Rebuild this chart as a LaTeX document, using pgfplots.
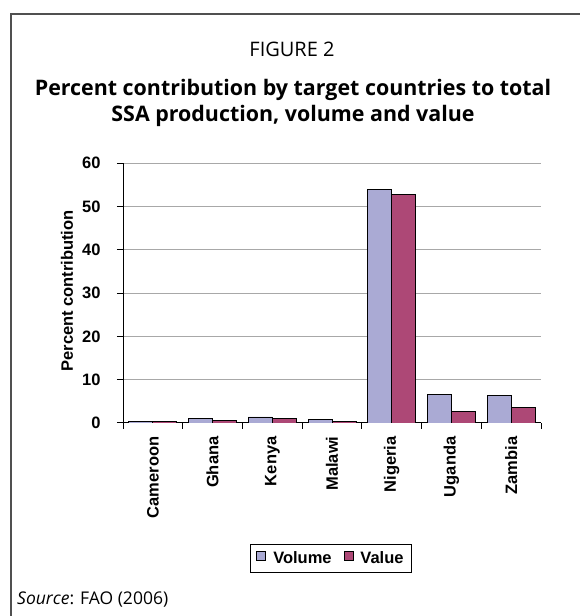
\documentclass[border=0pt]{standalone}
\usepackage{fontspec}
\setmainfont{Liberation Sans}
\newfontfamily\titlefont{Open Sans}
\usepackage{pgfplots}
\pgfplotsset{compat=1.18}

\definecolor{vol}{HTML}{AAAAD4}
\definecolor{val}{HTML}{AD4876}
\definecolor{framec}{HTML}{505050}
\definecolor{gridc}{HTML}{A8A8A8}

\pgfplotsset{sqlegend/.style={legend image code/.code={\draw[##1,draw=black,line width=0.8pt] (0pt,-2pt) rectangle (9pt,7pt);}}}

\begin{document}
\begin{tikzpicture}[x=1pt,y=1pt]
\clip (0,0) rectangle (580,616);
\draw[framec, line width=1.6pt] (11,-10) -- (11,602) -- (600,602);
\node[font=\titlefont\fontsize{20}{26}\selectfont] at (292,566.5) {FIGURE 2};
\node[font=\titlefont\bfseries\fontsize{21.4}{26}\selectfont, align=center] at (293,513.5) {Percent contribution by target countries to total\\SSA production, volume and value};
\node[anchor=base west, font=\titlefont\fontsize{17.5}{20}\selectfont, inner sep=0pt] at (17,12) {\textit{Source}\/: FAO (2006)};

\begin{axis}[at={(123pt,193pt)}, anchor=south west, scale only axis,
  width=418pt, height=260pt,
  xmin=-0.5, xmax=6.5, ymin=0, ymax=60,
  axis x line=bottom, axis y line=left,
  axis line style={-, line width=1pt, black},
  /pgf/number format/assume math mode=true,
  ytick={0,10,...,60}, ymajorgrids, grid style={gridc, line width=1pt},
  xtick={-0.5,0.5,...,6.5}, xticklabels={},
  extra x ticks={0,1,2,3,4,5,6},
  extra x tick labels={Cameroon,Ghana,Kenya,Malawi,Nigeria,Uganda,Zambia},
  extra x tick style={major tick length=0pt, xticklabel style={yshift=-10pt, rotate=90, anchor=east, font=\bfseries\fontsize{16.5}{18}\selectfont}},
  tick align=outside, major tick length=6pt,
  tick style={black, line width=1pt},
  yticklabel style={xshift=-13pt, font=\bfseries\fontsize{16.5}{18}\selectfont},
  ylabel={Percent contribution},
  ylabel style={font=\bfseries\fontsize{16.5}{18}\selectfont, at={(axis description cs:-0.134,0.508)}, anchor=center, rotate=0},
  ybar=0pt, bar width=24pt,
  legend columns=2,
  legend style={at={(axis description cs:0.4976,-0.521)}, anchor=center, draw=black, line width=0.8pt,
    font=\bfseries\fontsize{16.5}{18}\selectfont, inner xsep=6pt, inner ysep=5pt,
    /tikz/every odd column/.append style={column sep=5pt},
    /tikz/every even column/.append style={column sep=10pt}},
]
\addplot[fill=vol, draw=black, line width=0.8pt, sqlegend] coordinates {(0,0.3) (1,1.1) (2,1.4) (3,0.9) (4,54.0) (5,6.6) (6,6.3)};
\addplot[fill=val, draw=black, line width=0.8pt, sqlegend] coordinates {(0,0.3) (1,0.6) (2,1.0) (3,0.3) (4,52.8) (5,2.7) (6,3.6)};
\legend{Volume, Value}
\end{axis}
\end{tikzpicture}
\end{document}
